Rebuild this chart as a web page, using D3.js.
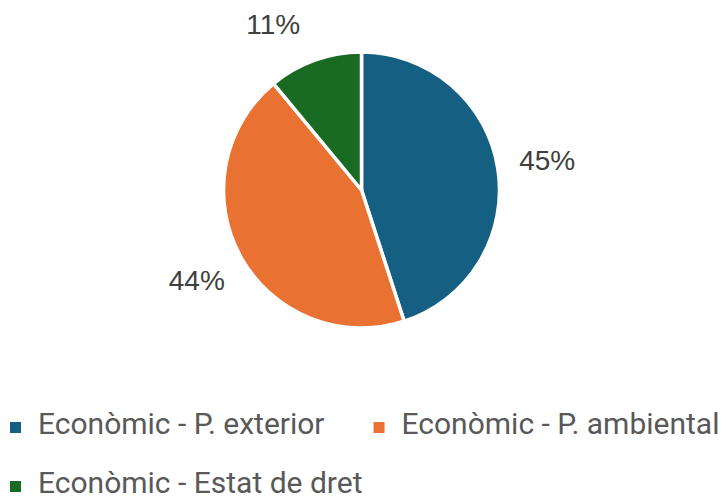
<!DOCTYPE html>
<html>
<head>
<meta charset="utf-8">
<script src="https://cdn.jsdelivr.net/npm/d3@7"></script>
<style>
  body { margin: 0; background: #fff; }
  svg { display: block; }
</style>
</head>
<body>
<div class="g-chart-container-pie"></div>
<script>
// data
var categories = ["Econòmic - P. exterior", "Econòmic - P. ambiental", "Econòmic - Estat de dret"];
var shares = [45, 44, 11];
var colors = ["#156082", "#E97132", "#196B24"];

var w = 726, h = 502;
var cx = 361.5, cy = 190, r = 138;
var labelR = 188, labelMinY = 24;

var svg = d3.select(".g-chart-container-pie")
  .append("svg")
  .attr("width", w)
  .attr("height", h);

var data = categories.map(function(c, i){ return {name: c, value: shares[i]}; });

var color = d3.scaleOrdinal().domain(categories).range(colors);

var pie = d3.pie()
  .sort(null)
  .value(function(d){ return d.value; });

var arc = d3.arc().innerRadius(0).outerRadius(r);

var arcs = pie(data);

var g = svg.append("g").attr("transform", "translate(" + cx + "," + cy + ")");

g.selectAll("path")
  .data(arcs)
  .enter().append("path")
    .attr("d", arc)
    .attr("fill", function(d){ return color(d.data.name); })
    .attr("stroke", "#fff")
    .attr("stroke-width", 3.5)
    .attr("stroke-linejoin", "round");

// labels on a circle outside the pie; slide along it if too close to the top
g.selectAll("text.pct")
  .data(arcs)
  .enter().append("text")
    .attr("class", "pct")
    .attr("text-anchor", "middle")
    .attr("dy", "0.35em")
    .style("font-family", "'Liberation Sans', Arial, sans-serif")
    .style("font-size", "28px")
    .style("fill", "#404040")
    .attr("transform", function(d){
      var a = (d.startAngle + d.endAngle) / 2;
      var x = labelR * Math.sin(a), y = -labelR * Math.cos(a);
      var minY = labelMinY - cy;
      if (y < minY) {
        y = minY;
        x = (x < 0 ? -1 : 1) * Math.sqrt(labelR * labelR - y * y);
      }
      return "translate(" + x + "," + y + ")";
    })
    .text(function(d){ return d.data.value + "%"; });

// legend, flowing left to right and wrapping
var legendTop = 434, rowH = 59, legendX = 10, markerSize = 11, textGap = 28, itemGap = 49;

var legend = svg.append("g").attr("class", "legend");
var lx = legendX, ly = legendTop;

categories.forEach(function(c){
  var item = legend.append("g");
  var t = item.append("text")
    .attr("x", textGap)
    .attr("y", 0)
    .style("font-family", "Roboto, 'Open Sans', sans-serif")
    .style("font-size", "30px")
    .style("fill", "#595959")
    .text(c);
  var tw = t.node().getComputedTextLength();
  item.insert("rect", "text")
    .attr("x", 0)
    .attr("y", -markerSize - 1)
    .attr("width", markerSize)
    .attr("height", markerSize)
    .attr("fill", color(c));
  var iw = textGap + tw;
  if (lx > legendX && lx + iw > w) {
    lx = legendX;
    ly += rowH;
  }
  item.attr("transform", "translate(" + lx + "," + ly + ")");
  lx += iw + itemGap;
});
</script>
</body>
</html>
